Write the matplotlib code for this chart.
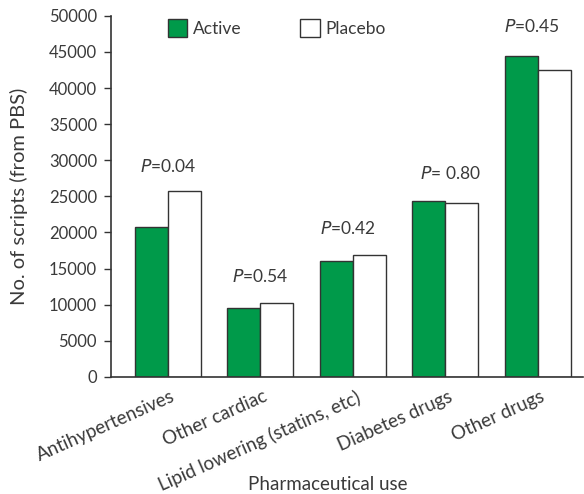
import numpy as np
import matplotlib
matplotlib.use("Agg")
import matplotlib.pyplot as plt

plt.rcParams["font.family"] = ["Lato", "DejaVu Sans"]

categories = ["Antihypertensives", "Other cardiac", "Lipid lowering (statins, etc)",
              "Diabetes drugs", "Other drugs"]
active = [20800, 9500, 16100, 24300, 44500]
placebo = [25800, 10250, 16850, 24050, 42450]
p_labels = ["0.04", "0.54", "0.42", " 0.80", "0.45"]
p_y = [29200, 13900, 20600, 28200, 48500]
p_x_off = [0.0, 0.0, -0.05, 0.06, -0.06]

GREEN = "#009a4a"
EDGE = "#333333"
TXT = "#3a3a3a"

fig = plt.figure(figsize=(5.84, 4.94), dpi=100)
ax = fig.add_axes([0.190, 0.237, 0.808, 0.731])

x = np.arange(len(categories))
w = 0.357
ax.bar(x - w / 2, active, w, color=GREEN, edgecolor=EDGE, lw=1.0, label="Active")
ax.bar(x + w / 2, placebo, w, color="white", edgecolor=EDGE, lw=1.0, label="Placebo")

# P-values above each pair
for xi, off, yv, lab in zip(x, p_x_off, p_y, p_labels):
    ax.text(xi + off, yv, f"$\\it{{P}}$={lab}", ha="center", va="center",
            fontsize=12.5, color=TXT)

ax.set_xlim(-0.616, 4.49)
ax.set_ylim(0, 50000)
ax.set_yticks(np.arange(0, 50001, 5000))
ax.tick_params(axis="y", labelsize=12, labelcolor=TXT, direction="out",
               length=5, color=EDGE, width=1, pad=5)
ax.set_xticks(x + 0.03)
ax.set_xticklabels(categories, rotation=24, ha="right", va="top",
                   rotation_mode="anchor", fontsize=13.5, color=TXT)
ax.tick_params(axis="x", length=0, pad=8)
for s in ["top", "right"]:
    ax.spines[s].set_visible(False)
for s in ["left", "bottom"]:
    ax.spines[s].set_color(EDGE)
    ax.spines[s].set_linewidth(1.2)

ax.set_ylabel("No. of scripts (from PBS)", fontsize=14.5, color=TXT)
ax.yaxis.set_label_coords(-0.176, 0.5)
ax.set_xlabel("Pharmaceutical use", fontsize=13.5, color=TXT, va="center")
ax.xaxis.set_label_coords(0.46, -0.297)

ax.legend(loc="upper left", bbox_to_anchor=(0.12, 0.99), ncol=2, frameon=False,
          fontsize=12.5, handlelength=1.1, handleheight=1.2, columnspacing=3.4,
          handletextpad=0.35, borderpad=0, borderaxespad=0, labelcolor=TXT)

fig.savefig("out.png", dpi=100)
